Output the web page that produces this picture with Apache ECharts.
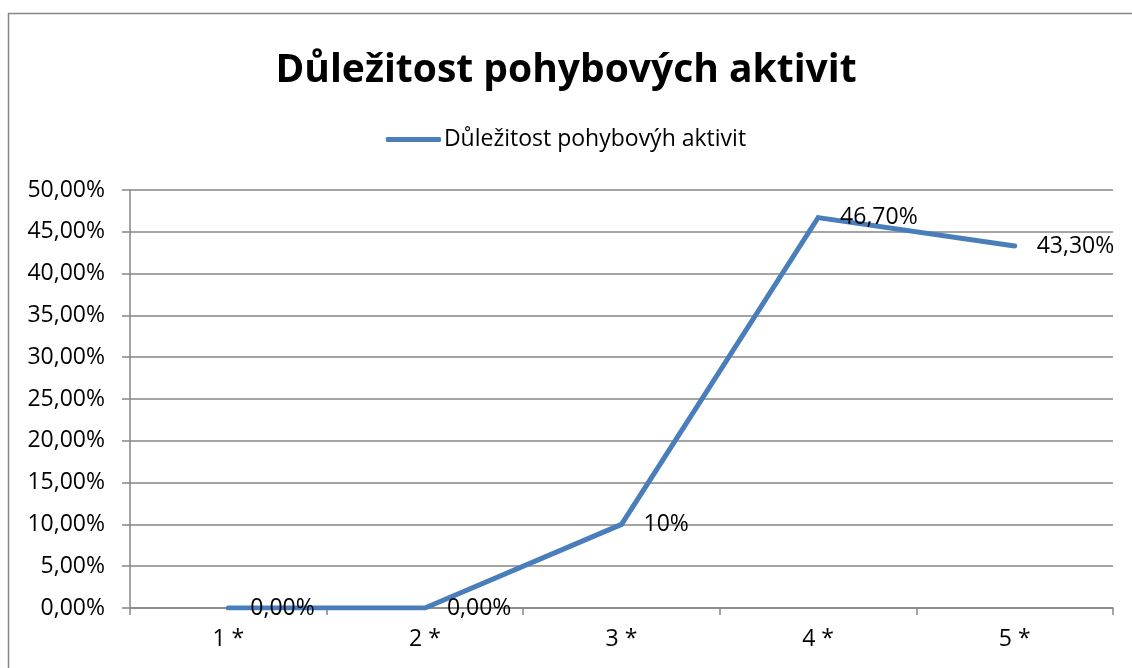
<!DOCTYPE html>
<html>
<head>
<meta charset="utf-8">
<script src="https://cdn.jsdelivr.net/npm/echarts@6/dist/echarts.min.js"></script>
<style>
  html, body { margin: 0; padding: 0; background: #fff; }
  #chart { width: 1132px; height: 668px; }
</style>
</head>
<body>
<div id="chart"></div>
<script>
var categories = ['1 *', '2 *', '3 *', '4 *', '5 *'];
var values = [0, 0, 10, 46.7, 43.3];
var pointLabels = ['0,00%', '0,00%', '10%', '46,70%', '43,30%'];
var seriesName = 'Důležitost pohybovýh aktivit';
var titleText = 'Důležitost pohybových aktivit';

var font = 'Open Sans';
var chart = echarts.init(document.getElementById('chart'));
var option = {
    backgroundColor: '#fff',
    animation: false,
    graphic: [{
        type: 'rect',
        shape: { x: 8.5, y: 13.5, width: 1140, height: 700 },
        style: { fill: 'none', stroke: '#868686', lineWidth: 1.5 },
        silent: true
    }],
    title: {
        text: titleText,
        left: 'center',
        top: 46,
        textStyle: {
            fontFamily: font,
            fontWeight: 'bold',
            fontSize: 39,
            color: '#000'
        }
    },
    legend: {
        top: 123,
        left: 'center',
        itemWidth: 55,
        itemHeight: 5,
        itemGap: 10,
        textStyle: { fontFamily: font, fontSize: 23, color: '#000', padding: [0, 0, 0, -2] },
        data: [{ name: seriesName, icon: 'roundRect', itemStyle: { color: '#4a7ebb', opacity: 1 } }]
    },
    grid: {
        left: 130,
        right: 19,
        top: 190,
        bottom: 60,
        containLabel: false
    },
    xAxis: {
        type: 'category',
        data: categories,
        boundaryGap: true,
        axisLine: { lineStyle: { color: '#868686', width: 1.5 } },
        axisTick: { show: true, length: 7, lineStyle: { color: '#868686', width: 1.5 } },
        axisLabel: { fontFamily: font, fontSize: 23, color: '#000', margin: 20 }
    },
    yAxis: {
        type: 'value',
        min: 0,
        max: 50,
        interval: 5,
        axisLine: { show: true, lineStyle: { color: '#868686', width: 1.5 } },
        axisTick: { show: true, length: 8, lineStyle: { color: '#868686', width: 1.5 } },
        splitLine: { show: true, lineStyle: { color: '#868686', width: 1.5 } },
        axisLabel: {
            fontFamily: font,
            fontSize: 23,
            color: '#000',
            margin: 25,
            formatter: function (v) {
                return v.toFixed(2).replace('.', ',') + '%';
            }
        }
    },
    series: [{
        name: seriesName,
        type: 'line',
        data: values,
        symbol: 'circle',
        symbolSize: 4,
        showSymbol: true,
        itemStyle: { color: '#4a7ebb' },
        lineStyle: { color: '#4a7ebb', width: 5, cap: 'round', join: 'miter' },
        label: {
            show: true,
            position: 'right',
            distance: 20,
            fontFamily: font,
            fontSize: 23,
            color: '#000',
            formatter: function (p) {
                return pointLabels[p.dataIndex];
            }
        }
    }]
};
chart.setOption(option);
</script>
</body>
</html>
